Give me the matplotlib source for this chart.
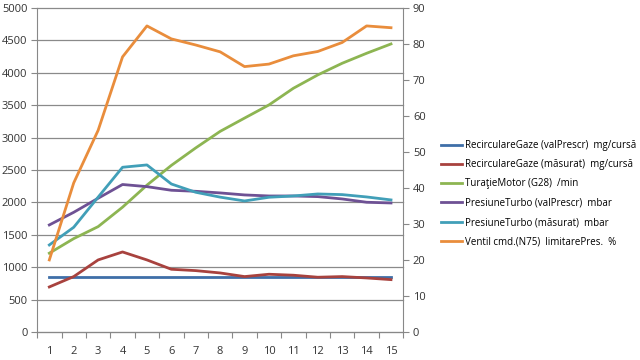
import numpy as np
import matplotlib
matplotlib.use('Agg')
import matplotlib.pyplot as plt

plt.rcParams['font.family'] = ['Open Sans', 'DejaVu Sans']

# date
puncte = list(range(1, 16))
recirc_prescr = [845] * 15
recirc_masurat = [694, 854, 1111, 1234, 1111, 967, 946, 910, 854, 890, 875, 844, 854, 833, 807]
turatie = [1215, 1440, 1625, 1925, 2265, 2570, 2840, 3095, 3300, 3503, 3760, 3966, 4146, 4300, 4444]
presiune_prescr = [1651, 1846, 2063, 2275, 2242, 2186, 2170, 2145, 2114, 2098, 2098, 2088, 2052, 2001, 1990]
presiune_masurat = [1342, 1615, 2080, 2541, 2577, 2283, 2155, 2080, 2021, 2078, 2098, 2129, 2119, 2083, 2037]
ventil = [20, 41.4, 56, 76.4, 85, 81.4, 79.7, 77.8, 73.7, 74.4, 76.7, 77.9, 80.4, 85, 84.5]

etichete = ['RecirculareGaze (valPrescr)  mg/cursă',
            'RecirculareGaze (măsurat)  mg/cursă',
            'TuraţieMotor (G28)  /min',
            'PresiuneTurbo (valPrescr)  mbar',
            'PresiuneTurbo (măsurat)  mbar',
            'Ventil cmd.(N75)  limitarePres.  %']
culori = ['#3f6fa8', '#a8423e', '#8db552', '#6e5194', '#419fb8', '#e98d3c']

fig = plt.figure(figsize=(6.4, 3.6), dpi=100)
ax = fig.add_axes([0.058, 0.078, 0.572, 0.9])
ax2 = ax.twinx()

serii = [recirc_prescr, recirc_masurat, turatie, presiune_prescr, presiune_masurat]
linii = []
for s, c, e in zip(serii, culori[:5], etichete[:5]):
    l, = ax.plot(puncte, s, color=c, lw=2, label=e, solid_joinstyle='round')
    linii.append(l)
l, = ax2.plot(puncte, ventil, color=culori[5], lw=2, label=etichete[5], solid_joinstyle='round')
linii.append(l)

ax.set_xlim(0.5, 15.5)
ax.set_ylim(0, 5000)
ax2.set_ylim(0, 90)
ax.set_yticks(np.arange(0, 5001, 500))
ax2.set_yticks(np.arange(0, 91, 10))
ax.set_xticks(np.arange(0.5, 15.6, 1))
ax.set_xticklabels([])
ax.set_xticks(puncte, minor=True)
ax.set_xticklabels([str(p) for p in puncte], minor=True)
ax.tick_params(axis='x', which='minor', length=0, pad=10)
ax.tick_params(axis='x', which='major', length=4, color='#888888')
ax.tick_params(axis='y', length=4, color='#888888', pad=3)
ax2.tick_params(axis='y', length=4, color='#888888', pad=3)
for a in (ax, ax2):
    a.tick_params(labelsize=8, labelcolor='#333333', which='both')
    for sp in a.spines.values():
        sp.set_visible(False)
ax.spines['left'].set_visible(True)
ax.spines['bottom'].set_visible(True)
ax2.spines['right'].set_visible(True)
for sp in (ax.spines['left'], ax.spines['bottom'], ax2.spines['right']):
    sp.set_color('#888888')
ax.yaxis.grid(True, color='#8a8a8a', lw=0.9, clip_on=False)
ax.set_axisbelow(True)

fig.legend(linii, etichete, loc='upper left', bbox_to_anchor=(0.683, 0.622),
           frameon=False, fontsize=7, handlelength=2.2, labelspacing=0.85,
           handletextpad=0.3, borderaxespad=0)

fig.savefig('out.png', dpi=100)
